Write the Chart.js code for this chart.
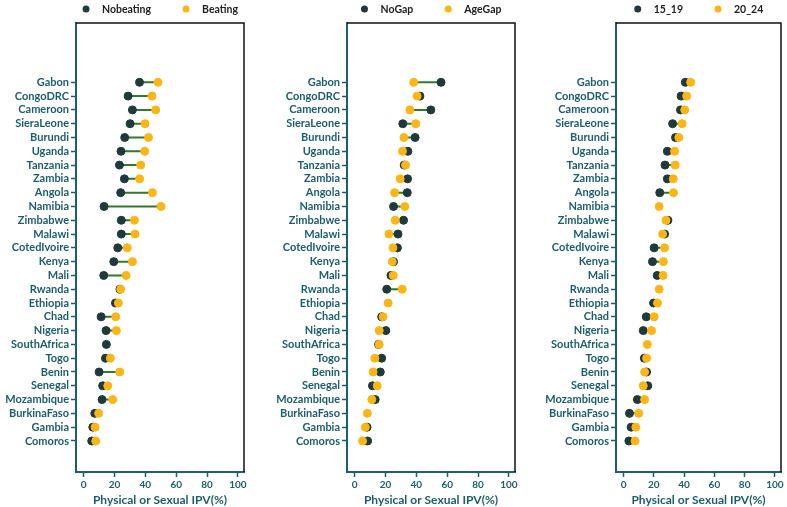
<!DOCTYPE html>
<html>
<head>
<meta charset="utf-8">
<script src="https://cdn.jsdelivr.net/npm/chart.js@4.4.0/dist/chart.umd.min.js"></script>
<style>
  html, body { margin: 0; padding: 0; background: #fff; }
  #wrap { position: relative; width: 787px; height: 507px; }
  #wrap canvas { position: absolute; left: 0; top: 0; }
</style>
</head>
<body>
<div id="wrap">
  <canvas id="p1" width="787" height="507"></canvas>
  <canvas id="p2" width="787" height="507"></canvas>
  <canvas id="p3" width="787" height="507"></canvas>
</div>
<script>
const countries = ['Gabon', 'CongoDRC', 'Cameroon', 'SieraLeone', 'Burundi', 'Uganda', 'Tanzania',
  'Zambia', 'Angola', 'Namibia', 'Zimbabwe', 'Malawi', 'CotedIvoire', 'Kenya', 'Mali', 'Rwanda',
  'Ethiopia', 'Chad', 'Nigeria', 'SouthAfrica', 'Togo', 'Benin', 'Senegal', 'Mozambique',
  'BurkinaFaso', 'Gambia', 'Comoros'];

// panel 1
const nobeating = [36.2, 28.8, 31.6, 30.1, 26.6, 24.2, 23.2, 26.4, 24.0, 13.2, 24.4, 24.4, 22.1,
  19.5, 13.0, 23.5, 20.6, 11.3, 14.5, 14.7, 14.1, 10.0, 12.3, 11.9, 7.2, 5.9, 5.2];
const beating = [48.2, 44.3, 46.7, 39.8, 42.0, 39.6, 37.0, 36.3, 44.6, 50.2, 32.9, 33.3, 28.3,
  31.6, 27.5, 24.0, 22.5, 20.8, 21.2, null, 17.3, 23.4, 15.6, 18.8, 9.7, 7.4, 7.8];

// panel 2
const noGap = [56.0, 42.3, 49.4, 31.2, 39.2, 34.5, 32.1, 34.3, 34.1, 25.2, 31.7, 28.1, 27.7,
  25.2, 23.5, 20.8, null, 17.5, 20.2, 15.5, 17.5, 16.6, 11.5, 13.3, null, 8.0, 8.4];
const ageGap = [38.3, 40.5, 35.8, 39.6, 31.9, 31.0, 33.0, 29.5, 25.9, 32.5, 26.3, 22.2, 24.8,
  24.4, 25.0, 30.8, 21.7, 18.4, 15.9, 15.9, 13.1, 11.9, 14.6, 11.1, 8.2, 6.9, 5.1];

// panel 3
const age15_19 = [40.8, 38.0, 37.6, 32.4, 34.3, 28.9, 27.4, 28.9, 23.9, null, 29.3, 27.1, 20.2,
  19.1, 22.2, null, 19.8, 15.0, 13.0, null, 13.7, 15.2, 16.0, 9.1, 3.9, 5.0, 3.5];
const age20_24 = [44.3, 41.7, 40.4, 38.7, 36.5, 33.7, 34.1, 32.8, 33.0, 23.5, 28.0, 25.8, 27.1,
  26.3, 26.1, 23.5, 22.4, 20.2, 18.5, 15.7, 15.2, 13.9, 13.0, 13.9, 10.0, 8.1, 7.6];

const xTicks = [0, 20, 40, 60, 80, 100];

const teal = '#1b5e6c';
const darkDot = '#1e3a3c';
const orangeDot = '#fbb514';
const lineGreen = '#2f7a2b';
const fontFam = 'Lato, "Open Sans", sans-serif';

// Comoros sits at 1, Gabon at 27
function rowValue(i) { return countries.length - i; }

function pts(vals) {
  return vals.map((v, i) => ({ x: v, y: rowValue(i) }));
}

function connectors(a, b) {
  const out = [];
  a.forEach((v, i) => {
    if (v == null || b[i] == null) return;
    out.push({ x: v, y: rowValue(i) }, { x: b[i], y: rowValue(i) }, { x: null, y: rowValue(i) });
  });
  return out;
}

// legend drawn above the plot area, and black top/right frame
const panelDeco = {
  id: 'panelDeco',
  afterDraw(chart, args, opts) {
    const { ctx, chartArea } = chart;
    ctx.save();
    ctx.strokeStyle = '#111';
    ctx.lineWidth = 1.5;
    ctx.beginPath();
    ctx.moveTo(chartArea.left, chartArea.top);
    ctx.lineTo(chartArea.right, chartArea.top);
    ctx.lineTo(chartArea.right, chartArea.bottom);
    ctx.stroke();

    ctx.font = 'bold 10.5px ' + fontFam;
    ctx.textBaseline = 'middle';
    const items = opts.items;
    const widths = items.map(it => ctx.measureText(it.text).width);
    let total = 0;
    widths.forEach((w, i) => { total += 16 + w + (i < widths.length - 1 ? 35 : 0); });
    let x = (chartArea.left + chartArea.right) / 2 - total / 2 + 2;
    const y = 9;
    items.forEach((it, i) => {
      ctx.fillStyle = it.color;
      ctx.beginPath();
      ctx.arc(x, y, 3.5, 0, Math.PI * 2);
      ctx.fill();
      ctx.fillStyle = '#222';
      ctx.fillText(it.text, x + 16, y + 0.5);
      x += 16 + widths[i] + 35;
    });
    ctx.restore();
  }
};

function makePanel(id, darkLabel, darkVals, orangeLabel, orangeVals, left, right) {
  new Chart(document.getElementById(id), {
    type: 'scatter',
    data: {
      datasets: [
        {
          label: darkLabel,
          data: pts(darkVals),
          backgroundColor: darkDot,
          borderColor: darkDot,
          pointRadius: 4,
          order: 2
        },
        {
          label: orangeLabel,
          data: pts(orangeVals),
          backgroundColor: orangeDot,
          borderColor: orangeDot,
          pointRadius: 4,
          order: 1
        },
        {
          label: 'gap',
          data: connectors(darkVals, orangeVals),
          showLine: true,
          spanGaps: false,
          borderColor: lineGreen,
          borderWidth: 2,
          pointRadius: 0,
          order: 3
        }
      ]
    },
    options: {
      responsive: false,
      animation: false,
      layout: { padding: { left: left - 70, right: 787 - right, top: 23, bottom: 0 } },
      plugins: {
        legend: { display: false },
        tooltip: { enabled: false },
        panelDeco: {
          items: [
            { text: darkLabel, color: darkDot },
            { text: orangeLabel, color: orangeDot }
          ]
        }
      },
      scales: {
        x: {
          type: 'linear',
          min: -5,
          max: 104,
          afterBuildTicks: (scale) => { scale.ticks = xTicks.map(v => ({ value: v })); },
          afterFit: (scale) => { scale.height = 35; },
          grid: { drawOnChartArea: false, color: teal, tickLength: 5, tickWidth: 1.5 },
          border: { color: teal, width: 2 },
          ticks: { color: teal, font: { family: fontFam, size: 10, weight: 'bold' }, padding: 2 },
          title: {
            display: true,
            text: 'Physical or Sexual IPV(%)',
            color: teal,
            font: { family: fontFam, size: 12, weight: 'bold' },
            padding: { top: 0, bottom: 0 }
          }
        },
        y: {
          type: 'linear',
          min: -1.25,
          max: 31.3,
          afterBuildTicks: (scale) => { scale.ticks = countries.map((c, i) => ({ value: rowValue(i) })); },
          afterFit: (scale) => { scale.width = 70; },
          grid: { drawOnChartArea: false, color: teal, tickLength: 5, tickWidth: 1.5 },
          border: { color: teal, width: 2 },
          ticks: {
            autoSkip: false,
            color: teal,
            padding: 2,
            font: { family: fontFam, size: 11, weight: 'bold' },
            callback: (v) => countries[countries.length - v]
          }
        }
      }
    },
    plugins: [panelDeco]
  });
}

makePanel('p1', 'Nobeating', nobeating, 'Beating', beating, 76, 244);
makePanel('p2', 'NoGap', noGap, 'AgeGap', ageGap, 347, 515);
makePanel('p3', '15_19', age15_19, '20_24', age20_24, 616, 781);
</script>
</body>
</html>
